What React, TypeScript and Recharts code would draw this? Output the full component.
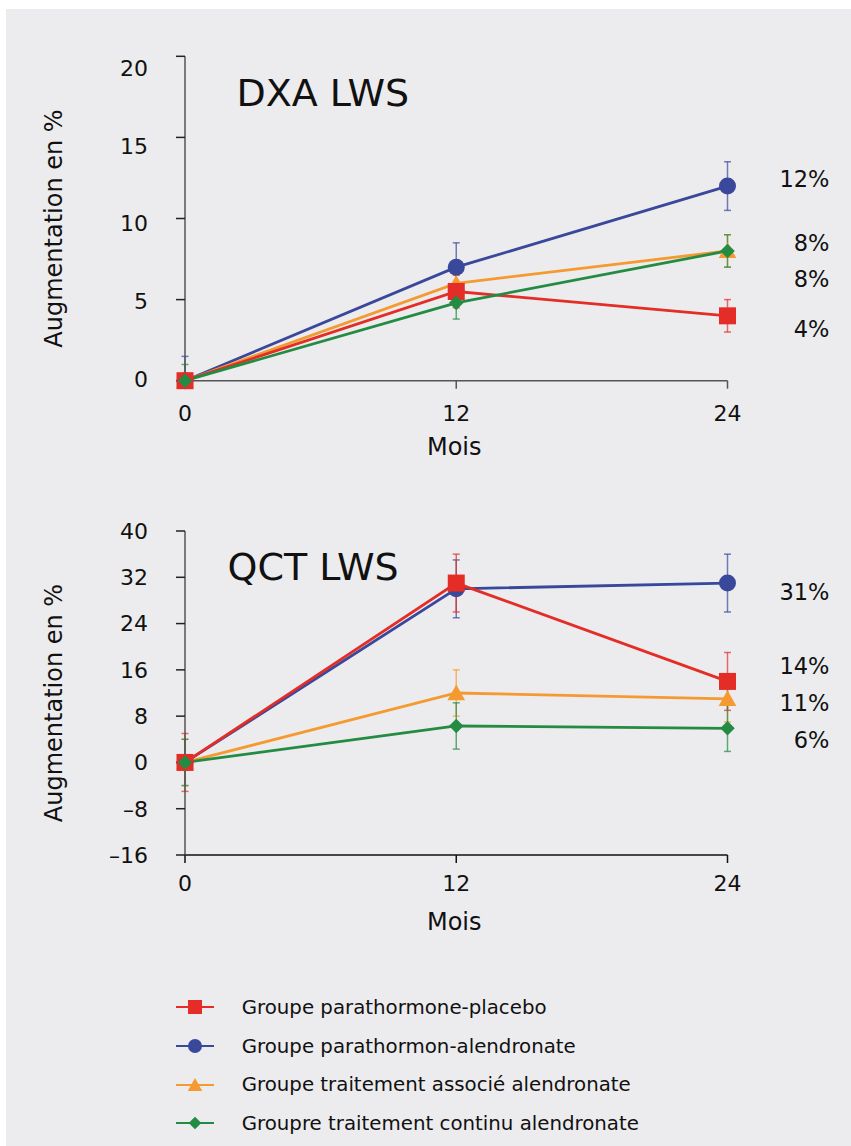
import React from "react";
import { LineChart, Line, XAxis, YAxis, ErrorBar, ReferenceDot } from "recharts";

const FONT = "'DejaVu Sans', sans-serif";

const months = [0, 12, 24];
const monthTicks = [0, 12, 24];

const groupNames = [
  "Groupe parathormone-placebo",
  "Groupe parathormon-alendronate",
  "Groupe traitement associé alendronate",
  "Groupre traitement continu alendronate",
];

// DXA LWS (augmentation en %)
const dxaPlacebo = [0, 5.5, 4];
const dxaAlendronate = [0, 7, 12];
const dxaAssocie = [0, 6, 8];
const dxaContinu = [0, 4.8, 8];
// error bars, [below, above]
const dxaPlaceboErr = [[0, 0], [1, 1], [1, 1]];
const dxaAlendronateErr = [[0, 1.5], [1.5, 1.5], [1.5, 1.5]];
const dxaAssocieErr = [[0, 0], [1, 1], [1, 1]];
const dxaContinuErr = [[0, 1], [1, 1], [1, 1]];
const dxaTicks = [0, 5, 10, 15, 20];
const dxaEndLabels = ["12%", "8%", "8%", "4%"];
const dxaEndLabelAt = [12.45, 8.5, 6.3, 3.2];

// QCT LWS (augmentation en %)
const qctPlacebo = [0, 31, 14];
const qctAlendronate = [0, 30, 31];
const qctAssocie = [0, 12, 11];
const qctContinu = [0, 6.3, 5.9];
const qctPlaceboErr = [[5, 5], [5, 5], [5, 5]];
const qctAlendronateErr = [[1, 1], [5, 5], [5, 5]];
const qctAssocieErr = [[4, 4], [4, 4], [4, 4]];
const qctContinuErr = [[4, 4], [4, 4], [4, 4]];
const qctTicks = [-16, -8, 0, 8, 16, 24, 32, 40];
const qctEndLabels = ["31%", "14%", "11%", "6%"];
const qctEndLabelAt = [29.5, 16.7, 10.3, 3.9];

const colors = ["#e32d26", "#3a489b", "#f59a31", "#238b42"];
const shapes = ["square", "circle", "triangle", "diamond"];
const drawOrder = [1, 2, 0, 3]; // red and green sit on top

const rows = (vals: number[], errs: number[][]) =>
  months.map((m, i) => ({ m, v: vals[i], e: errs[i] }));

const Marker = ({ shape, cx, cy, color, s }: any) => {
  if (shape === "square")
    return <rect x={cx - s / 2} y={cy - s / 2} width={s} height={s} fill={color} />;
  if (shape === "circle") return <circle cx={cx} cy={cy} r={s / 2} fill={color} />;
  if (shape === "triangle")
    return (
      <polygon
        points={`${cx},${cy - s * 0.5} ${cx - s * 0.52},${cy + s * 0.42} ${cx + s * 0.52},${cy + s * 0.42}`}
        fill={color}
      />
    );
  return (
    <polygon
      points={`${cx},${cy - s * 0.47} ${cx + s * 0.47},${cy} ${cx},${cy + s * 0.47} ${cx - s * 0.47},${cy}`}
      fill={color}
    />
  );
};

const fmt = (v: number) => (v < 0 ? `\u2013${Math.abs(v)}` : `${v}`);

const YTick = ({ x, y, payload, shift }: any) => (
  <text x={x} y={y + shift(payload.value)} dy="0.36em" textAnchor="end" fontSize={22} fill="#111" fontFamily={FONT}>
    {fmt(payload.value)}
  </text>
);

const XTick = ({ x, y, payload }: any) => (
  <text x={x} y={y} dy="0.36em" textAnchor="middle" fontSize={22} fill="#111" fontFamily={FONT}>
    {payload.value}
  </text>
);

const YTitle = ({ viewBox }: any) => {
  const cy = viewBox.y + viewBox.height / 2 + 10;
  return (
    <text x={62} y={cy} transform={`rotate(-90 62 ${cy})`} textAnchor="middle" fontSize={24} fill="#111" fontFamily={FONT}>
      Augmentation en %
    </text>
  );
};

const XTitle = ({ viewBox }: any) => (
  <text x={viewBox.x + viewBox.width / 2 - 2} y={viewBox.y + 66} dy="0.36em" textAnchor="middle" fontSize={24} fill="#111" fontFamily={FONT}>
    Mois
  </text>
);

const EndLabel = ({ viewBox, text }: any) => {
  const cx = viewBox.x + (viewBox.width || 0) / 2;
  const cy = viewBox.y + (viewBox.height || 0) / 2;
  return (
    <text x={cx + 102} y={cy} dy="0.36em" textAnchor="end" fontSize={22.5} fill="#111" fontFamily={FONT}>
      {text}
    </text>
  );
};

function Panel({ values, errors, ticks, endLabels, endLabelAt, top, margin, tickShift, xTickMargin, xAxisColor }: any) {
  return (
    <div style={{ position: "absolute", left: 0, top }}>
      <LineChart width={851} height={480} margin={margin}>
        <XAxis
          type="number"
          dataKey="m"
          domain={[0, 24]}
          ticks={monthTicks}
          height={30}
          axisLine={{ stroke: xAxisColor, strokeWidth: 1.5 }}
          tickLine={{ stroke: xAxisColor, strokeWidth: 1.5 }}
          tickSize={8}
          tickMargin={xTickMargin}
          tick={(p: any) => <XTick {...p} />}
          label={(p: any) => <XTitle {...p} />}
        />
        <YAxis
          type="number"
          domain={[ticks[0], ticks[ticks.length - 1]]}
          ticks={ticks}
          interval={0}
          width={60}
          axisLine={{ stroke: "#555", strokeWidth: 1.5 }}
          tickLine={{ stroke: "#222", strokeWidth: 1.5 }}
          tickSize={9}
          tickMargin={28}
          tick={(p: any) => <YTick {...p} shift={tickShift} />}
          label={(p: any) => <YTitle {...p} />}
        />
        {drawOrder.map((i) => (
          <Line
            key={groupNames[i]}
            name={groupNames[i]}
            data={rows(values[i], errors[i])}
            dataKey="v"
            stroke={colors[i]}
            strokeWidth={2.8}
            isAnimationActive={false}
            activeDot={false}
            dot={(p: any) => (
              <Marker key={`d${i}-${p.index}`} shape={shapes[i]} cx={p.cx} cy={p.cy} color={colors[i]} s={i === 3 ? 15.5 : 17} />
            )}
          >
            <ErrorBar dataKey="e" width={3.5} direction="y" stroke={colors[i]} strokeOpacity={0.7} strokeWidth={1.5} />
          </Line>
        ))}
        {endLabels.map((t: string, k: number) => (
          <ReferenceDot
            key={`l${k}`}
            x={24}
            y={endLabelAt[k]}
            r={1}
            fill="none"
            stroke="none"
            label={(p: any) => <EndLabel {...p} text={t} />}
          />
        ))}
      </LineChart>
    </div>
  );
}

const LegendIcon = ({ i }: any) => (
  <svg width={40} height={20}>
    <line x1={1} y1={10} x2={39} y2={10} stroke={colors[i]} strokeWidth={2} />
    <Marker shape={shapes[i]} cx={20} cy={10} color={colors[i]} s={i === 3 ? 13.5 : 14} />
  </svg>
);

export default function App() {
  const titleStyle: React.CSSProperties = {
    position: "absolute",
    fontFamily: FONT,
    fontSize: 38,
    lineHeight: 1,
    color: "#111",
    whiteSpace: "nowrap",
  };
  return (
    <div style={{ position: "absolute", left: 0, top: 0, width: 851, height: 1146, background: "#fff", overflow: "hidden" }}>
      <div style={{ position: "absolute", left: 6, top: 9, right: 0, bottom: 0, background: "#ececee" }} />
      <Panel
        values={[dxaPlacebo, dxaAlendronate, dxaAssocie, dxaContinu]}
        errors={[dxaPlaceboErr, dxaAlendronateErr, dxaAssocieErr, dxaContinuErr]}
        ticks={dxaTicks}
        endLabels={dxaEndLabels}
        endLabelAt={dxaEndLabelAt}
        top={0}
        margin={{ top: 56.3, right: 123.5, bottom: 69.3, left: 125 }}
        tickShift={(v: number) => v * 0.7 - 2}
        xTickMargin={24}
        xAxisColor="#555"
      />
      <Panel
        values={[qctPlacebo, qctAlendronate, qctAssocie, qctContinu]}
        errors={[qctPlaceboErr, qctAlendronateErr, qctAssocieErr, qctContinuErr]}
        ticks={qctTicks}
        endLabels={qctEndLabels}
        endLabelAt={qctEndLabelAt}
        top={470}
        margin={{ top: 61, right: 123.5, bottom: 65, left: 125 }}
        tickShift={() => 0}
        xTickMargin={20}
        xAxisColor="#111"
      />
      <div style={{ ...titleStyle, left: 236.5, top: 73.6 }}>DXA LWS</div>
      <div style={{ ...titleStyle, left: 227.5, top: 547.6 }}>QCT LWS</div>
      <div style={{ position: "absolute", left: 175, top: 988, fontFamily: FONT, fontSize: 19.8, color: "#111" }}>
        {[0, 1, 2, 3].map((i) => (
          <div key={groupNames[i]} style={{ display: "flex", alignItems: "center", height: 38.7 }}>
            <LegendIcon i={i} />
            <span style={{ marginLeft: 26.7, whiteSpace: "nowrap" }}>{groupNames[i]}</span>
          </div>
        ))}
      </div>
    </div>
  );
}
